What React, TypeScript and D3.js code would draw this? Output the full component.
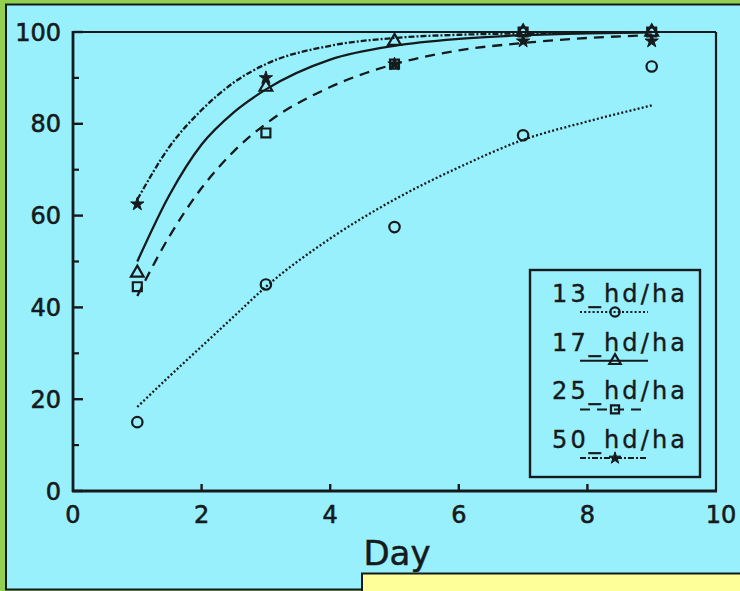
import React from "react";
import * as d3 from "d3";

const days = [1, 3, 5, 7, 9];
const obs13 = [15, 45, 57.5, 77.5, 92.5];
const obs17 = [47.5, 88, 98, 100, 100];
const obs25 = [44.5, 78, 93, 100, 100];
const obs50 = [62.5, 90, 93, 98, 98];

const fitDays = [1, 1.5, 2, 2.5, 3, 4, 5, 6, 7, 8, 9];
const fit13 = [18.3, 25, 31.5, 38, 44.5, 55, 63.5, 70.5, 76.5, 80.5, 84];
const fit17 = [50, 64.5, 75.5, 82.5, 87.5, 94, 97, 98.5, 99.3, 99.7, 99.9];
const fit25 = [42.5, 55.5, 66, 74, 80, 88, 93, 96, 97.6, 98.7, 99.3];
const fit50 = [63.5, 75, 83, 89, 93, 97, 98.7, 99.4, 99.7, 99.9, 100];

const legendLabels = ["13_hd/ha", "17_hd/ha", "25_hd/ha", "50_hd/ha"];
const xTicks = [0, 2, 4, 6, 8, 10];
const yTicks = [0, 20, 40, 60, 80, 100];
const yMinor = [10, 30, 50, 70, 90];

const INK = "#151a1c";
const FONT = "'DejaVu Sans', sans-serif";

export default function App() {
  const x = d3.scaleLinear().domain([0, 10]).range([73, 716]);
  const y = d3.scaleLinear().domain([0, 100]).range([491, 32]);
  const line = d3
    .line<number>()
    .x((_, i) => x(fitDays[i]))
    .y((d) => y(d))
    .curve(d3.curveMonotoneX);

  const series = [
    { obs: obs13, fit: fit13, dash: "2,2.2", marker: "circle" },
    { obs: obs17, fit: fit17, dash: "none", marker: "triangle" },
    { obs: obs25, fit: fit25, dash: "10,7", marker: "square" },
    { obs: obs50, fit: fit50, dash: "6,2,2,2", marker: "star" },
  ];

  const marker = (type: string, cx: number, cy: number, key: string, scale = 1) => {
    if (type === "circle")
      return <circle key={key} cx={cx} cy={cy} r={5.2 * scale} fill="none" stroke={INK} strokeWidth={2.2} />;
    if (type === "triangle") {
      const p = d3.symbol(d3.symbolTriangle, 70 * scale * scale)();
      return <path key={key} d={p || ""} transform={`translate(${cx},${cy})`} fill="none" stroke={INK} strokeWidth={2.2} />;
    }
    if (type === "square") {
      const p = d3.symbol(d3.symbolSquare, 80 * scale * scale)();
      return <path key={key} d={p || ""} transform={`translate(${cx},${cy})`} fill="none" stroke={INK} strokeWidth={2.2} />;
    }
    const p = d3.symbol(d3.symbolStar, 55 * scale * scale)();
    return <path key={key} d={p || ""} transform={`translate(${cx},${cy})`} fill={INK} stroke={INK} strokeWidth={1} />;
  };

  const textStyle = { stroke: INK, strokeWidth: 0.6 };

  return (
    <svg width={740} height={591} style={{ position: "absolute", left: 0, top: 0 }}>
      <rect x={0} y={0} width={740} height={591} fill="#92d050" />
      <rect x={6} y={4.5} width={740} height={585} fill="#99f0fd" stroke={INK} strokeWidth={2} />

      {/* frame */}
      <line x1={x(0)} x2={x(10)} y1={y(100)} y2={y(100)} stroke={INK} strokeWidth={2.2} />
      <line x1={x(10)} x2={x(10)} y1={y(100)} y2={y(0)} stroke={INK} strokeWidth={2.2} />
      <line x1={x(0)} x2={x(0)} y1={y(100) - 1} y2={y(0) + 1} stroke={INK} strokeWidth={2.8} />
      <line x1={x(0) - 1} x2={x(10) + 1} y1={y(0)} y2={y(0)} stroke={INK} strokeWidth={2.8} />

      {/* y ticks */}
      {yTicks.map((t) => (
        <g key={`yt${t}`}>
          <line x1={x(0)} x2={x(0) + 10} y1={y(t)} y2={y(t)} stroke={INK} strokeWidth={2.4} />
          <text x={61} y={y(t)} dy="0.36em" textAnchor="end" fontFamily={FONT} fontSize={24} fill={INK} style={textStyle}>
            {t}
          </text>
        </g>
      ))}
      {yMinor.map((t) => (
        <line key={`ym${t}`} x1={x(0)} x2={x(0) + 6} y1={y(t)} y2={y(t)} stroke={INK} strokeWidth={2.2} />
      ))}

      {/* x ticks */}
      {xTicks.map((t) => (
        <g key={`xt${t}`}>
          {t > 0 && t < 10 && (
            <line x1={x(t)} x2={x(t)} y1={y(0)} y2={y(0) - 7} stroke={INK} strokeWidth={2.4} />
          )}
          <text x={x(t) + (t === 10 ? 5 : 0)} y={523} textAnchor="middle" fontFamily={FONT} fontSize={24} fill={INK} style={textStyle}>
            {t}
          </text>
        </g>
      ))}
      <text x={397} y={565} textAnchor="middle" fontFamily={FONT} fontSize={34} fill={INK} style={{ stroke: INK, strokeWidth: 0.5 }}>
        Day
      </text>

      {/* fits */}
      {series.map((s, i) => (
        <path
          key={`fit${i}`}
          d={line(s.fit) || ""}
          fill="none"
          stroke={INK}
          strokeWidth={2.3}
          strokeDasharray={s.dash}
        />
      ))}

      {/* observed */}
      {series.map((s, i) => (
        <g key={`obs${i}`}>{s.obs.map((v, j) => marker(s.marker, x(days[j]), y(v), `m${i}-${j}`))}</g>
      ))}

      {/* legend */}
      <rect x={530} y={270} width={170} height={207} fill="none" stroke={INK} strokeWidth={2.4} />
      {series.map((s, i) => {
        const by = 302 + i * 48.7;
        return (
          <g key={`lg${i}`}>
            <text x={552} y={by} fontFamily={FONT} fontSize={24} fill={INK} textLength={133} lengthAdjust="spacing" style={{ stroke: INK, strokeWidth: 0.4 }}>
              {legendLabels[i]}
            </text>
            <line x1={580} x2={648} y1={by + 10} y2={by + 10} stroke={INK} strokeWidth={2} strokeDasharray={s.dash} />
            {marker(s.marker, 615, by + 10, `lm${i}`, 0.9)}
          </g>
        );
      })}

      {/* yellow box */}
      <rect x={362} y={573.5} width={380} height={20} fill="#ffff99" stroke={INK} strokeWidth={2} />
    </svg>
  );
}
